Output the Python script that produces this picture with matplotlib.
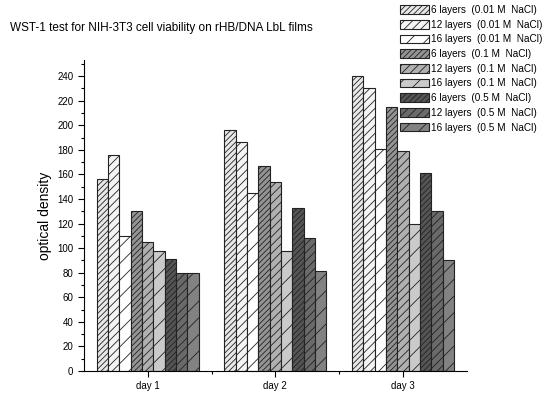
import numpy as np
import matplotlib.pyplot as plt

plt.rcParams['font.family'] = ['Liberation Sans', 'DejaVu Sans']
plt.rcParams['hatch.linewidth'] = 0.6

days = ['day 1', 'day 2', 'day 3']
labels = ['6 layers  (0.01 M  NaCl)', '12 layers  (0.01 M  NaCl)', '16 layers  (0.01 M  NaCl)',
          '6 layers  (0.1 M  NaCl)', '12 layers  (0.1 M  NaCl)', '16 layers  (0.1 M  NaCl)',
          '6 layers  (0.5 M  NaCl)', '12 layers  (0.5 M  NaCl)', '16 layers  (0.5 M  NaCl)']

# rows = series, columns = day 1..3
values = [
    [156, 196, 240],
    [176, 186, 230],
    [110, 145, 181],
    [130, 167, 215],
    [105, 154, 179],
    [98, 98, 120],
    [91, 133, 161],
    [80, 108, 130],
    [80, 81, 90],
]

fills = ['#e8e8e8', '#f4f4f4', '#ffffff',
         '#949494', '#b0b0b0', '#cacaca',
         '#555555', '#6a6a6a', '#828282']
hatches = ['//////', '////', '//'] * 3

fig = plt.figure(figsize=(5.48, 3.98), dpi=100)
ax = fig.add_axes([0.153, 0.068, 0.699, 0.781])

x = np.arange(1, len(days) + 1)
w = 0.8 / len(values)
for i, vals in enumerate(values):
    ax.bar(x - 0.4 + w * (i + 0.5), vals, width=w, color=fills[i], hatch=hatches[i],
           edgecolor='#222222', linewidth=0.8, label=labels[i])

ax.set_xlim(0.5, 3.5)
ax.set_ylim(0, 253)
ax.set_yticks(np.arange(0, 241, 20))
ax.set_yticks(np.arange(0, 251, 10), minor=True)
ax.set_xticks(x)
ax.set_xticklabels(days)
ax.set_xticks([1.5, 2.5], minor=True)
ax.tick_params(labelsize=7, direction='out', length=4, width=0.8)
ax.tick_params(which='minor', length=2.5, width=0.8)
ax.spines['right'].set_visible(False)
ax.spines['top'].set_visible(False)
ax.set_ylabel('optical density', fontsize=10, labelpad=4)

fig.text(0.018, 0.922, 'WST-1 test for NIH-3T3 cell viability on rHB/DNA LbL films', fontsize=8.5)

ax.legend(loc='upper left', bbox_to_anchor=(0.72, 1.0), bbox_transform=fig.transFigure,
          frameon=False, fontsize=7.2, handlelength=2.9, handleheight=0.95,
          handletextpad=0.2, labelspacing=0.47, borderaxespad=0.1)

fig.savefig('out.png', dpi=100)
